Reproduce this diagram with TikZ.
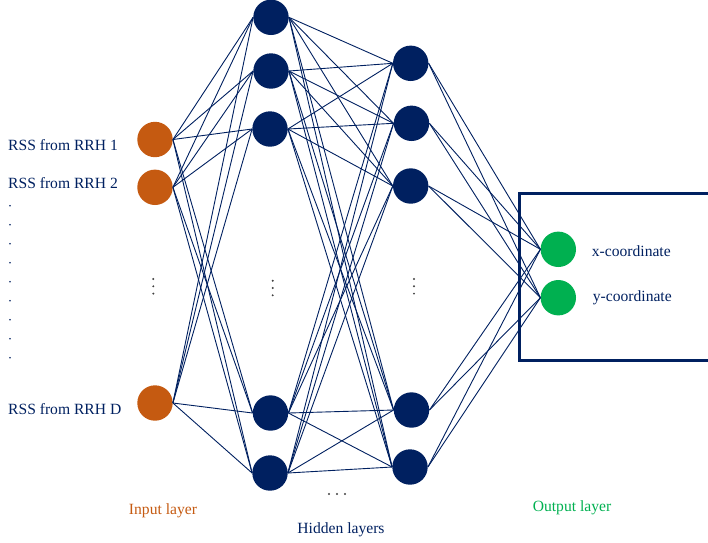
\documentclass[tikz,border=0pt]{standalone}
\usepackage{fontspec}
\setmainfont{Liberation Serif}
\definecolor{navy}{HTML}{002060}
\definecolor{inorange}{HTML}{C55A11}
\definecolor{outgreen}{HTML}{00B050}
\definecolor{dotgray}{HTML}{404040}
\begin{document}
\begin{tikzpicture}[x=1pt,y=-1pt,
  neuron/.style={circle,minimum size=35.4pt,inner sep=0pt,draw=none},
  innode/.style={neuron,fill=inorange},
  hidnode/.style={neuron,fill=navy},
  outnode/.style={neuron,fill=outgreen},
  link/.style={draw=navy,line width=0.9pt},
  lbl/.style={font=\fontsize{15.6}{18}\selectfont,text=navy,inner sep=0pt},
  dotmark/.style={circle,fill=dotgray,inner sep=0pt,minimum size=2.2pt},
  smalldot/.style={circle,fill=navy,inner sep=0pt,minimum size=1.7pt},
  outbox/.style={draw=navy,line width=3pt}
]
\useasboundingbox (0,0) rectangle (708,542);

% input layer
\node[innode] (i1) at (155,139.5) {};
\node[innode] (i2) at (155,187.3) {};
\node[innode] (i3) at (155,403) {};
% hidden layer 1
\node[hidnode] (h11) at (271,17.3) {};
\node[hidnode] (h12) at (271,71) {};
\node[hidnode] (h13) at (270,129) {};
\node[hidnode] (h14) at (270.5,413) {};
\node[hidnode] (h15) at (270,473) {};
% hidden layer 2
\node[hidnode] (h21) at (410.7,63.3) {};
\node[hidnode] (h22) at (411.5,123.3) {};
\node[hidnode] (h23) at (410.7,186) {};
\node[hidnode] (h24) at (411.5,410) {};
\node[hidnode] (h25) at (410,467) {};
% output layer
\node[outnode] (o1) at (558.3,249.3) {};
\node[outnode] (o2) at (558.3,297.7) {};

% connections
\foreach \a in {i1,i2,i3}
  \foreach \b in {h11,h12,h13,h14,h15}
    \draw[link] (\a.east) -- (\b.west);
\foreach \a in {h11,h12,h13,h14,h15}
  \foreach \b in {h21,h22,h23,h24,h25}
    \draw[link] (\a.east) -- (\b.west);
\foreach \a in {h21,h22,h23,h24,h25}
  \foreach \b in {o1,o2}
    \draw[link] (\a.east) -- (\b.west);

% output box
\draw[outbox] (716,193.7) -- (519.3,193.7) -- (519.3,360) -- (716,360);

% labels
\node[lbl,anchor=base west] (l1) at (8,150.7) {RSS from RRH 1};
\node[lbl,anchor=base west] (l2) at (8,188.3) {RSS from RRH 2};
\node[lbl,anchor=base west] (l3) at (8,414) {RSS from RRH D};
\node[lbl,anchor=base west] (xc) at (591.7,256) {x-coordinate};
\node[lbl,anchor=base west] (yc) at (592.7,301.7) {y-coordinate};
\node[lbl,anchor=base,text=inorange] (inl) at (163,514) {Input layer};
\node[lbl,anchor=base] (hidl) at (341,533) {Hidden layers};
\node[lbl,anchor=base,text=outgreen] (outl) at (572,511.5) {Output layer};

% left column of dots
\foreach \k in {0,...,8}
  \node[smalldot] (ld\k) at (10,205.7+19*\k) {};

% vertical ellipses
\foreach \xx/\yy [count=\n] in {153.3/286.3, 272.7/288, 414/286.3} {
  \node[dotmark] (va\n) at (\xx,\yy-7.3) {};
  \node[dotmark] (vb\n) at (\xx,\yy) {};
  \node[dotmark] (vc\n) at (\xx,\yy+7.3) {};
}
% horizontal ellipsis
\node[dotmark] (ha) at (329,494) {};
\node[dotmark] (hb) at (337,494) {};
\node[dotmark] (hc) at (345,494) {};
\end{tikzpicture}
\end{document}
